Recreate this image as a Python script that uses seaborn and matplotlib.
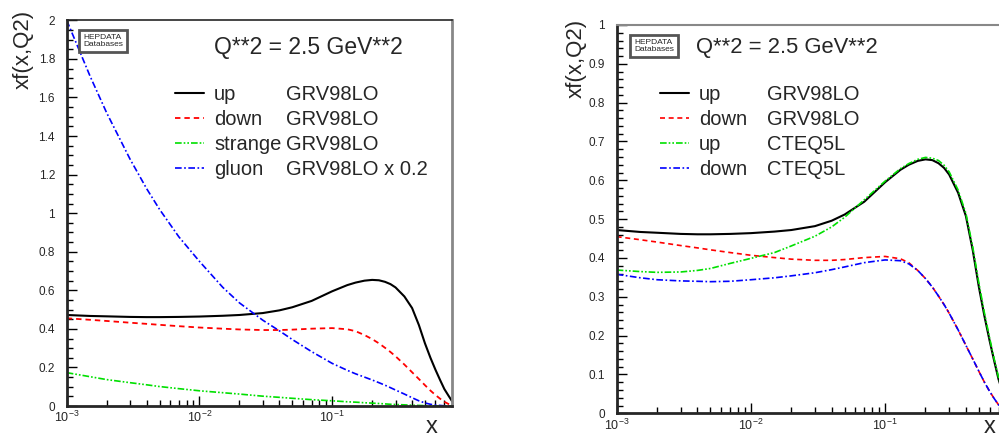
import seaborn as sns
import matplotlib.pyplot as plt
from matplotlib.lines import Line2D
from matplotlib.ticker import MultipleLocator, FuncFormatter, LogLocator, NullFormatter

# x grid (log scale)
X = [0.001, 0.0015, 0.002, 0.003, 0.004, 0.005, 0.007, 0.01, 0.015, 0.02,
     0.03, 0.04, 0.05, 0.07, 0.1, 0.13, 0.15, 0.175, 0.2, 0.225,
     0.25, 0.275, 0.3, 0.35, 0.4, 0.45, 0.5, 0.55, 0.6, 0.65,
     0.7, 0.75, 0.8]

up_grv = [0.472, 0.467, 0.465, 0.462, 0.461, 0.461, 0.462, 0.464, 0.468, 0.472,
          0.482, 0.496, 0.512, 0.545, 0.595, 0.627, 0.640, 0.650, 0.654, 0.652,
          0.644, 0.632, 0.615, 0.568, 0.508, 0.420, 0.325, 0.250, 0.188, 0.135,
          0.088, 0.055, 0.025]

down_grv = [0.455, 0.447, 0.441, 0.432, 0.426, 0.421, 0.414, 0.407, 0.401, 0.397,
            0.394, 0.394, 0.396, 0.401, 0.404, 0.398, 0.388, 0.368, 0.347, 0.325,
            0.302, 0.280, 0.258, 0.215, 0.175, 0.140, 0.108, 0.080, 0.057, 0.038,
            0.022, 0.011, 0.005]

strange_grv = [0.173, 0.152, 0.137, 0.121, 0.110, 0.101, 0.090, 0.079, 0.069, 0.062,
               0.051, 0.045, 0.040, 0.033, 0.027, 0.022, 0.020, 0.017, 0.015, 0.013,
               0.011, 0.009, 0.008, 0.006, 0.004, 0.003, 0.002, 0.001, 0.001, 0.0,
               0.0, 0.0, 0.0]

# gluon already scaled by 0.2
gluon_grv = [2.00, 1.71, 1.52, 1.28, 1.127, 1.02, 0.877, 0.75, 0.615, 0.535,
             0.445, 0.39, 0.345, 0.282, 0.221, 0.185, 0.167, 0.150, 0.135, 0.121,
             0.108, 0.095, 0.083, 0.062, 0.043, 0.027, 0.016, 0.009, 0.005, 0.003,
             0.001, 0.0, 0.0]

up_cteq = [0.369, 0.365, 0.363, 0.364, 0.368, 0.373, 0.386, 0.399, 0.414, 0.431,
           0.456, 0.480, 0.505, 0.550, 0.598, 0.630, 0.643, 0.654, 0.659, 0.657,
           0.651, 0.639, 0.622, 0.575, 0.515, 0.428, 0.335, 0.258, 0.195, 0.140,
           0.093, 0.058, 0.028]

down_cteq = [0.358, 0.349, 0.344, 0.341, 0.340, 0.339, 0.340, 0.344, 0.349, 0.354,
             0.362, 0.370, 0.377, 0.388, 0.395, 0.393, 0.385, 0.368, 0.347, 0.325,
             0.302, 0.280, 0.258, 0.215, 0.175, 0.140, 0.108, 0.080, 0.057, 0.038,
             0.022, 0.011, 0.005]

left_names = ['up', 'down', 'strange', 'gluon']
left_models = ['GRV98LO', 'GRV98LO', 'GRV98LO', 'GRV98LO x 0.2']
right_names = ['up', 'down', 'up', 'down']
right_models = ['GRV98LO', 'GRV98LO', 'CTEQ5L', 'CTEQ5L']

SOLID = '-'
DASH = (0, (3, 2.2))
DASH3DOT = (0, (4, 1.2, 1, 1.2, 1, 1.2))
DASHDOT = (0, (4, 1.5, 1, 1.5))


def style_axes(ax, ymax, ymajor, yminor):
    ax.set_xscale('log')
    ax.set_xlim(1e-3, 0.8)
    ax.set_ylim(0, ymax)
    ax.yaxis.set_major_locator(MultipleLocator(ymajor))
    ax.yaxis.set_minor_locator(MultipleLocator(yminor))
    ax.yaxis.set_major_formatter(FuncFormatter(lambda v, p: '%g' % round(v, 3)))
    ax.xaxis.set_minor_locator(LogLocator(base=10, subs=range(2, 10)))
    ax.xaxis.set_minor_formatter(NullFormatter())
    ax.tick_params(which='both', direction='in', top=False, right=False,
                   labelsize=8.5, color='black')
    ax.tick_params(which='major', length=7, width=1)
    ax.tick_params(which='minor', length=4, width=1)
    ax.tick_params(axis='y', pad=8.5)
    ax.tick_params(axis='x', pad=3, labelsize=9)
    ax.spines['left'].set_linewidth(2)
    ax.spines['bottom'].set_linewidth(2)
    ax.set_xlabel('')
    ax.set_ylabel('')


def hepdata(ax, x, y):
    ax.text(x, y, 'HEPDATA\nDatabases', transform=ax.transAxes, fontsize=6,
            ha='center', va='center', linespacing=1.05,
            bbox=dict(boxstyle='square,pad=0.5', fc='white', ec='#555555', lw=2))


def two_col_legend(ax, handles, names, models, x, y, colsp):
    blank = [Line2D([], [], linestyle='none') for _ in models]
    ax.legend(handles + blank, names + models, ncol=2, loc='upper left',
              bbox_to_anchor=(x, y), frameon=False, fontsize=14.5,
              handlelength=1.44, handletextpad=0.5, columnspacing=colsp,
              labelspacing=0.3, borderpad=0, borderaxespad=0)


def main():
    sns.set_style('ticks')
    plt.rcParams['font.family'] = ['Liberation Sans', 'DejaVu Sans']

    fig = plt.figure(figsize=(9.99, 4.37), dpi=100)

    # left panel
    ax = fig.add_axes([0.0668, 0.0709, 0.3857, 0.8826])
    sns.lineplot(x=X, y=up_grv, ax=ax, color='black', lw=1.5, linestyle=SOLID)
    sns.lineplot(x=X, y=down_grv, ax=ax, color='#ff0000', lw=1.3, linestyle=DASH)
    sns.lineplot(x=X, y=strange_grv, ax=ax, color='#00e000', lw=1.2, linestyle=DASH3DOT)
    sns.lineplot(x=X, y=gluon_grv, ax=ax, color='#0000ff', lw=1.2, linestyle=DASHDOT)
    style_axes(ax, 2, 0.2, 0.05)
    ax.spines['top'].set_linewidth(1.2)
    ax.spines['right'].set_color('#888888')
    ax.spines['right'].set_linewidth(2)
    hepdata(ax, 0.094, 0.946)
    ax.text(0.626, 0.930, 'Q**2 = 2.5 GeV**2', transform=ax.transAxes,
            fontsize=16.5, ha='center', va='center')
    handles = [Line2D([], [], color='black', lw=1.5, linestyle=SOLID),
               Line2D([], [], color='#ff0000', lw=1.3, linestyle=DASH),
               Line2D([], [], color='#00e000', lw=1.2, linestyle=DASH3DOT),
               Line2D([], [], color='#0000ff', lw=1.2, linestyle=DASHDOT)]
    two_col_legend(ax, handles, left_names, left_models, 0.281, 0.833, -1.69)

    # right panel
    ax = fig.add_axes([0.6173, 0.0542, 0.390, 0.8886])
    sns.lineplot(x=X, y=up_grv, ax=ax, color='black', lw=1.5, linestyle=SOLID)
    sns.lineplot(x=X, y=down_grv, ax=ax, color='#ff0000', lw=1.2, linestyle=DASH)
    sns.lineplot(x=X, y=up_cteq, ax=ax, color='#00e000', lw=1.2, linestyle=DASH3DOT)
    sns.lineplot(x=X, y=down_cteq, ax=ax, color='#0000ff', lw=1.2, linestyle=DASHDOT)
    style_axes(ax, 1, 0.1, 0.02)
    ax.spines['top'].set_color('#888888')
    ax.spines['top'].set_linewidth(1.5)
    hepdata(ax, 0.0957, 0.946)
    ax.text(0.4365, 0.941, 'Q**2 = 2.5 GeV**2', transform=ax.transAxes,
            fontsize=15.8, ha='center', va='center')
    handles = [Line2D([], [], color='black', lw=1.5, linestyle=SOLID),
               Line2D([], [], color='#ff0000', lw=1.2, linestyle=DASH),
               Line2D([], [], color='#00e000', lw=1.2, linestyle=DASH3DOT),
               Line2D([], [], color='#0000ff', lw=1.2, linestyle=DASHDOT)]
    two_col_legend(ax, handles, right_names, right_models, 0.111, 0.845, -0.93)

    # axis titles, ROOT style
    for xl, yl, yy in [(0.4324, 0.023, 0.886), (0.991, 0.5773, 0.866)]:
        fig.text(yl, yy, 'xf(x,Q2)', rotation=90, fontsize=16, ha='center', va='center')
        fig.text(xl, 0.023, 'x', fontsize=17, ha='center', va='center')

    fig.savefig('out.png', dpi=100)


if __name__ == '__main__':
    main()
